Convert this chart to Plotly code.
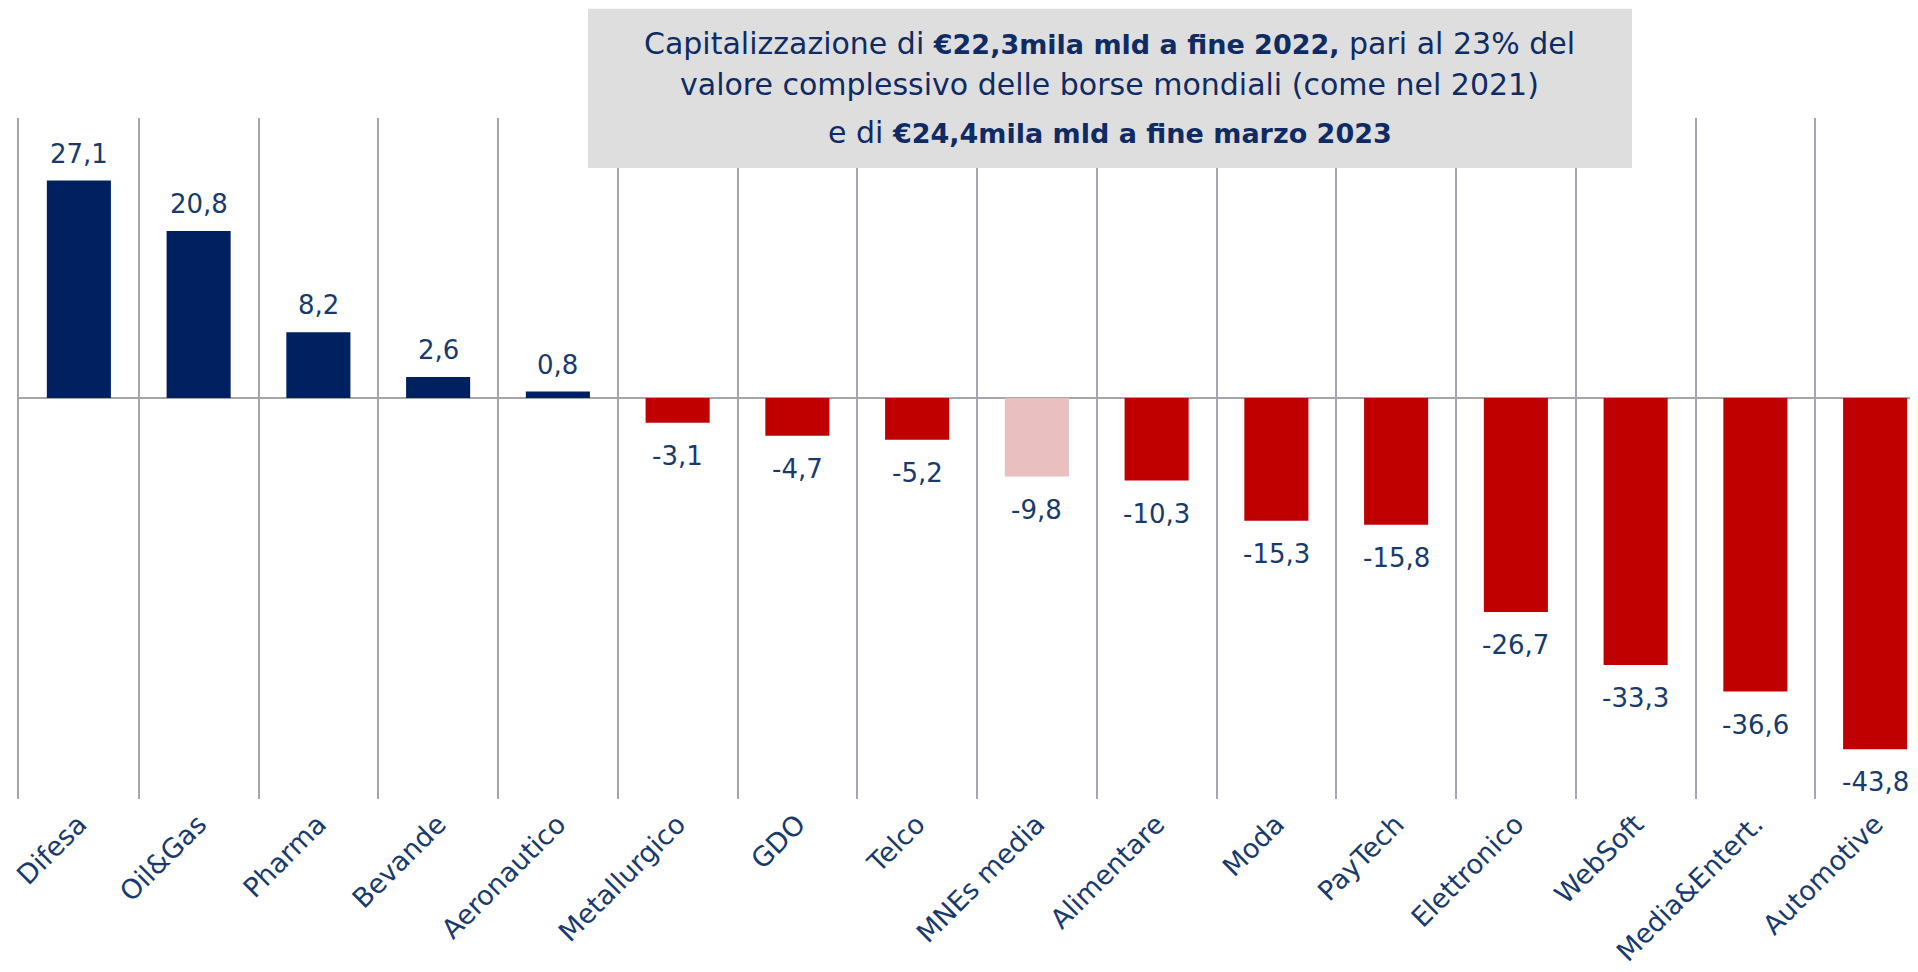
import plotly.graph_objects as go

categories = ["Difesa", "Oil&amp;Gas", "Pharma", "Bevande", "Aeronautico", "Metallurgico",
              "GDO", "Telco", "MNEs media", "Alimentare", "Moda", "PayTech",
              "Elettronico", "WebSoft", "Media&amp;Entert.", "Automotive"]
values = [27.1, 20.8, 8.2, 2.6, 0.8, -3.1, -4.7, -5.2, -9.8, -10.3, -15.3, -15.8,
          -26.7, -33.3, -36.6, -43.8]
highlight = "MNEs media"

POS_COL = "#002060"
NEG_COL = "#C00000"
HIL_COL = "#E9BFBF"
TXT_COL = "#183A6C"
FONT = "DejaVu Sans"

colors = [HIL_COL if c == highlight else (POS_COL if v >= 0 else NEG_COL)
          for c, v in zip(categories, values)]

fig = go.Figure(go.Bar(x=categories, y=values, marker=dict(color=colors, line=dict(width=0)),
                       hoverinfo="skip"))

annotations = []
for c, v in zip(categories, values):
    annotations.append(dict(x=c, y=v, xref="x", yref="y", showarrow=False,
                            text=f"{v:.1f}".replace(".", ","),
                            yanchor="middle", yshift=27 if v >= 0 else -33,
                            font=dict(family=FONT, size=26, color=TXT_COL)))

B = "<span style='font-size:27px'><b>{}</b></span>"
title_lines = [
    "Capitalizzazione di " + B.format("€22,3mila mld a fine 2022,") + " pari al 23% del",
    "valore complessivo delle borse mondiali (come nel 2021)",
    "e di " + B.format("€24,4mila mld a fine marzo 2023"),
]
title_y = [1.1087, 1.0499, 0.9794]
for t, yy in zip(title_lines, title_y):
    annotations.append(dict(x=0.5745, y=yy, xref="paper", yref="paper", showarrow=False,
                            text=t, xanchor="center", yanchor="middle",
                            font=dict(family=FONT, size=30, color="#0E2B63")))

fig.update_layout(
    width=1910, height=964,
    margin=dict(l=11, r=0, t=110, b=173, autoexpand=False),
    paper_bgcolor="white", plot_bgcolor="white",
    bargap=0.465,
    showlegend=False,
    xaxis=dict(range=[-0.5, 15.358], tickson="boundaries", showgrid=True,
               gridcolor="#A3A6B4", gridwidth=1.5, ticks="", tickangle=-45,
               ticklabelstandoff=3, automargin=False,
               tickfont=dict(family=FONT, size=27, color=TXT_COL),
               showline=False, zeroline=False, fixedrange=True),
    yaxis=dict(range=[-50, 34.9], showgrid=False, showticklabels=False,
               automargin=False,
               zeroline=True, zerolinecolor="#A6A6A6", zerolinewidth=2,
               showline=True, linecolor="#A3A6B4", linewidth=1.5, fixedrange=True),
    shapes=[dict(type="rect", xref="paper", yref="paper", x0=0.2996, x1=0.8494,
                 y0=0.9266, y1=1.1606, fillcolor="#DEDEDE", line=dict(width=0),
                 layer="above")],
    annotations=annotations,
)

fig.write_html("out.html", config={"displayModeBar": False})
